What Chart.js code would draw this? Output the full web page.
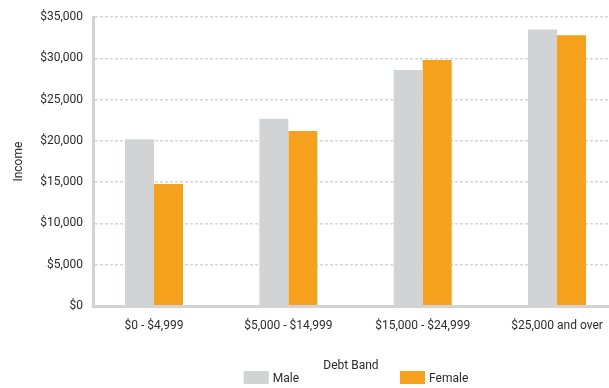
<!DOCTYPE html>
<html>
<head>
<meta charset="utf-8">
<script src="https://cdn.jsdelivr.net/npm/chart.js@4"></script>
<style>
body{margin:0;background:#fff}
</style>
</head>
<body>
<canvas id="myBar" width="609" height="388"></canvas>
<script>
const categories = ["$0 - $4,999", "$5,000 - $14,999", "$15,000 - $24,999", "$25,000 and over"]
const seriesNames = ["Male", "Female"]
const male = [20200, 22700, 28600, 33500]
const female = [14800, 21200, 29800, 32800]
const yTicks = [0, 5000, 10000, 15000, 20000, 25000, 30000, 35000]

const grey = '#d2d3d5'
const orange = '#f5a11d'
const textColor = '#2b2b2b'
const fontFamily = 'Roboto, "Liberation Sans", sans-serif'
const fontSize = 12

Chart.defaults.font.family = fontFamily
Chart.defaults.font.size = fontSize
Chart.defaults.color = textColor

// legend drawn by hand : the original has a wide gap between the two entries
const bottomLegend = {
    id: 'bottomLegend',
    afterDraw(chart){
        const ctx = chart.ctx
        const area = chart.chartArea
        const boxW = 25, boxH = 13, gap = 4, space = 101
        ctx.save()
        ctx.font = fontSize + 'px ' + fontFamily
        const widths = chart.data.datasets.map(ds => boxW + gap + ctx.measureText(ds.label).width)
        let x = (area.left + area.right) / 2 + 5 - (widths.reduce((a, b) => a + b, 0) + space * (widths.length - 1)) / 2
        const top = chart.height - 17
        chart.data.datasets.forEach((ds, i) => {
            ctx.fillStyle = ds.backgroundColor
            ctx.fillRect(x, top, boxW, boxH)
            ctx.fillStyle = textColor
            ctx.textBaseline = 'middle'
            ctx.textAlign = 'left'
            ctx.fillText(ds.label, x + boxW + gap, top + boxH / 2 + 1)
            x += widths[i] + space
        })
        ctx.restore()
    }
}

const cvs = document.getElementById('myBar')
new Chart(cvs, {
    type: 'bar',
    data: {
        datasets: [{
            label: seriesNames[0],
            data: male.map((v, i) => ({x: i, y: v})),
            backgroundColor: grey
        }, {
            label: seriesNames[1],
            data: female.map((v, i) => ({x: i, y: v})),
            backgroundColor: orange
        }]
    },
    options: {
        responsive: false,
        animation: false,
        barPercentage: 1,
        categoryPercentage: 0.432,
        layout: {
            padding: {left: 9, top: 13, right: 0, bottom: 15}
        },
        plugins: {
            legend: {display: false},
            tooltip: {enabled: false}
        },
        scales: {
            x: {
                type: 'linear',
                offset: false,
                min: -0.454,
                max: 3.387,
                grid: {display: false, offset: false},
                border: {color: grey, width: 3, z: 1},
                afterBuildTicks: axis => { axis.ticks = categories.map((c, i) => ({value: i})) },
                afterFit: axis => { axis.height = 67 },
                ticks: {
                    padding: 5,
                    autoSkip: false,
                    maxRotation: 0,
                    callback: v => categories[v]
                },
                title: {display: true, text: 'Debt Band', padding: {top: 0, bottom: 0}}
            },
            y: {
                min: 0,
                max: 35000,
                afterBuildTicks: axis => { axis.ticks = yTicks.map(v => ({value: v})) },
                afterFit: axis => { axis.width = 84 },
                grid: {color: '#d6d6d6', lineWidth: 1.5, drawTicks: false},
                border: {color: grey, width: 3, dash: [3, 2]},
                ticks: {
                    padding: 10,
                    callback: v => '$' + v.toLocaleString('en-US')
                },
                title: {display: true, text: 'Income', padding: {top: 3, bottom: 0}}
            }
        }
    },
    plugins: [bottomLegend]
})
</script>
</body>
</html>
